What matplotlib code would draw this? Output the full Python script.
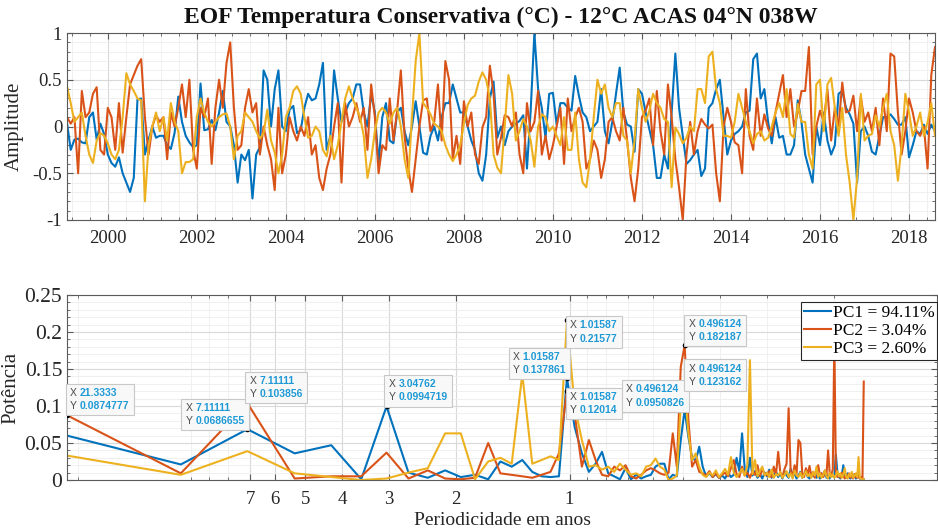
import numpy as np
import matplotlib
matplotlib.use('Agg')
import matplotlib.pyplot as plt
from matplotlib.ticker import AutoMinorLocator, FixedLocator, NullFormatter, LogLocator
from matplotlib.offsetbox import TextArea, HPacker, AnnotationBbox

plt.rcParams['font.family'] = ['Liberation Serif', 'DejaVu Serif']

# ---------------- time series (monthly, starting Feb 1999) ----------------
pc1 = [0.04, -0.25, -0.14, -0.13, -0.17, -0.18, 0.10, 0.15, -0.14, 0.03, -0.08, -0.30,
       -0.39, -0.43, -0.33, -0.50, -0.60, -0.70, -0.55, 0.29, 0.30, -0.30, -0.14, 0.00,
       -0.12, -0.10, -0.10, -0.20, -0.24, -0.07, 0.32, 0.05, -0.10, -0.17, -0.22, -0.20,
       0.46, -0.04, -0.03, 0.07, -0.04, 0.15, 0.38, 0.05, 0.00, -0.20, -0.60, -0.30,
       -0.36, -0.25, -0.77, -0.30, -0.22, 0.60, 0.50, 0.00, 0.40, 0.60, 0.00, -0.05,
       0.18, 0.22, -0.07, -0.04, 0.20, 0.35, 0.28, 0.30, 0.45, 0.68, -0.25, -0.10,
       0.60, 0.30, 0.05, 0.15, 0.25, 0.30, 0.45, 0.45, 0.15, 0.00, 0.35, 0.15,
       -0.40, 0.10, 0.25, -0.15, -0.18, 0.15, 0.20, -0.05, -0.20, 0.00, 0.27, 0.00,
       -0.28, -0.30, -0.10, 0.00, -0.15, 0.10, 0.25, 0.25, 0.45, 0.30, 0.15, 0.15,
       0.00, -0.15, -0.25, -0.50, -0.58, -0.30, 0.30, 0.48, -0.12, 0.00, -0.20, -0.05,
       0.00, 0.03, 0.06, 0.12, -0.45, 0.17, 1.00, 0.40, 0.20, -0.12, 0.35, 0.36,
       0.02, 0.25, 0.25, 0.20, 0.17, 0.54, 0.33, 0.15, 0.10, -0.05, 0.00, 0.05,
       0.40, -0.05, -0.18, 0.05, 0.35, 0.63, 0.15, 0.02, 0.00, -0.27, 0.40, 0.35,
       0.15, -0.03, -0.20, -0.55, -0.55, -0.30, -0.45, 0.15, 0.78, 0.20, -0.10, -0.40,
       -0.36, -0.30, -0.25, -0.53, -0.45, 0.20, 0.25, 0.40, 0.50, 0.10, -0.30, -0.15,
       -0.08, -0.05, 0.00, 0.15, 0.17, 0.72, 0.78, 0.30, 0.40, 0.05, -0.18, 0.10,
       -0.12, -0.10, -0.30, -0.30, -0.20, 0.28, 0.05, -0.30, -0.45, -0.60, 0.00, -0.20,
       0.15, -0.15, -0.30, -0.20, 0.35, 0.38, 0.20, 0.13, 0.03, -0.60, -0.05, 0.00,
       -0.10, -0.27, -0.30, -0.10, 0.10, 0.10, 0.13, 0.08, 0.02, 0.02, 0.10, -0.33,
       -0.20, -0.05, -0.08, 0.02, -0.08, 0.02, -0.05]

pc2 = [0.10, 0.03, 0.10, -0.50, 0.38, 0.10, 0.15, 0.35, 0.42, -0.25, -0.30, 0.20,
       0.10, -0.25, 0.25, -0.28, 0.10, 0.45, 0.55, 0.65, 0.72, 0.10, -0.30, 0.00,
       0.12, 0.05, 0.10, -0.35, 0.15, 0.00, 0.20, 0.45, 0.10, 0.50, -0.25, -0.45,
       0.20, 0.10, 0.30, -0.40, 0.20, 0.50, 0.20, 0.68, 0.90, 0.20, -0.25, -0.20,
       0.20, 0.40, 0.15, 0.25, -0.30, 0.00, -0.20, -0.35, -0.68, 0.20, -0.50, -0.30,
       0.10, -0.05, -0.15, 0.00, -0.10, 0.10, -0.30, -0.20, -0.55, -0.68, -0.45, -0.30,
       0.00, 0.25, -0.60, 0.25, 0.00, 0.10, 0.25, 0.05, 0.20, -0.25, 0.45, 0.10,
       -0.50, -0.20, -0.25, 0.30, -0.15, 0.17, 0.60, -0.10, -0.45, -0.70, -0.35, 0.00,
       0.28, 0.30, -0.05, 0.05, 0.45, -0.15, 0.70, 0.50, -0.35, -0.10, -0.40, 0.27,
       0.00, 0.15, -0.30, -0.40, -0.01, 0.10, 0.65, 0.35, -0.30, -0.12, 0.12, 0.10,
       0.00, 0.15, -0.30, -0.50, 0.25, -0.05, 0.05, 0.38, -0.30, -0.10, -0.35, -0.20,
       0.00, 0.20, -0.40, 0.30, -0.05, 0.10, 0.20, 0.05, -0.45, -0.35, -0.15, -0.25,
       -0.55, -0.35, 0.05, 0.10, -0.05, -0.15, 0.20, -0.15, -0.55, -0.80, -0.45, 0.10,
       0.17, 0.30, -0.20, 0.38, -0.05, -0.30, 0.45, 0.10, -0.35, -0.65, -1.00, -0.30,
       0.05, -0.30, -0.05, 0.08, 0.02, -0.02, 0.02, -0.50, -0.80, 0.00, 0.20, 0.05,
       -0.17, -0.20, -0.50, 0.40, -0.10, -0.25, 0.30, -0.10, 0.13, -0.02, -0.10, 0.15,
       0.35, 0.55, 0.10, 0.40, 0.00, 0.15, 0.38, 0.38, 0.85, -0.30, 0.00, 0.17,
       0.05, 0.40, -0.15, 0.20, 0.00, 0.47, 0.15, 0.17, 0.33, -0.05, 0.32, 0.05,
       0.15, -0.05, 0.20, -0.20, 0.30, -0.05, 0.78, 0.75, 0.15, -0.30, -0.05, 0.30,
       0.15, -0.05, -0.10, 0.00, -0.45, 0.55, 0.85]

pc3 = [0.43, 0.25, 0.05, 0.10, 0.15, -0.10, -0.30, -0.39, -0.15, -0.07, -0.10, -0.18,
       -0.30, -0.35, -0.25, 0.10, 0.57, 0.45, 0.38, 0.30, 0.28, -0.80, -0.20, 0.00,
       0.15, -0.05, 0.10, -0.15, 0.25, 0.05, -0.05, -0.50, -0.38, -0.38, -0.35, 0.10,
       0.30, 0.15, 0.05, 0.00, 0.05, 0.10, 0.13, 0.14, 0.00, -0.35, -0.10, -0.05,
       0.15, 0.10, 0.05, -0.05, -0.13, -0.07, 0.18, -0.15, -0.28, -0.50, -0.30, 0.10,
       0.20, 0.38, 0.43, 0.35, 0.10, -0.12, -0.10, 0.00, -0.05, -0.25, -0.32, -0.10,
       -0.35, -0.20, 0.05, 0.30, 0.43, 0.30, 0.20, 0.10, -0.10, -0.55, -0.35, -0.05,
       0.15, 0.20, 0.15, 0.03, 0.15, 0.20, 0.00, -0.35, -0.55, 0.10, 0.70, 1.00,
       0.25, 0.20, 0.13, 0.03, 0.00, -0.05, -0.20, -0.30, -0.37, -0.30, -0.20, 0.03,
       0.23, 0.30, 0.33, 0.48, 0.58, 0.50, 0.30, -0.30, -0.44, -0.50, 0.00, 0.55,
       0.35, -0.15, -0.05, 0.08, 0.00, -0.15, -0.43, 0.00, 0.13, 0.10, -0.05, 0.00,
       -0.10, -0.20, 0.10, -0.25, -0.25, 0.15, -0.35, -0.60, -0.65, -0.35, 0.10, 0.50,
       0.35, 0.45, 0.20, 0.10, 0.25, 0.25, -0.10, -0.15, -0.50, -0.15, 0.40, 0.20,
       0.05, 0.17, 0.35, 0.25, 0.20, 0.08, 0.05, -0.65, -0.01, -0.08, -0.18, -0.12,
       0.00, -0.05, 0.40, 0.40, 0.25, 0.75, 0.80, 0.40, 0.25, -0.10, -0.10, -0.12,
       0.05, 0.35, 0.20, 0.05, -0.05, -0.18, -0.08, -0.05, -0.15, -0.12, 0.00, 0.15,
       0.25, 0.10, 0.40, -0.08, -0.12, 0.24, 0.05, 0.05, -0.30, -0.45, 0.45, 0.50,
       -0.05, 0.45, 0.52, 0.20, -0.10, 0.20, -0.30, -0.60, -1.00, -0.55, 0.35, -0.15,
       -0.10, -0.08, 0.12, 0.00, 0.20, 0.35, -0.05, -0.20, -0.58, -0.20, 0.35, 0.15,
       -0.10, 0.00, 0.15, -0.10, 0.05, 0.25, -0.10]

start_year = 1999 + 1 / 12          # first month (Feb 1999)
tempo = start_year + np.arange(len(pc1)) / 12.0

# ---------------- power spectra (FFT with 256 points, monthly data) ----------------
N_FFT = 256
harm = np.arange(1, 129)
periodo = N_FFT / (12.0 * harm)     # period in years of each harmonic

pot1 = [0.060, 0.021, 0.0686655, 0.036, 0.047, 0.001, 0.0994719, 0.010, 0.003, 0.013,
        0.004, 0.007, 0.001, 0.025, 0.018, 0.027, 0.011, 0.005, 0.004, 0.005,
        0.137861, 0.072, 0.036, 0.011, 0.022, 0.038, 0.009, 0.005, 0.001, 0.016,
        0.001, 0.007, 0.002, 0.005, 0.007, 0.018, 0.022, 0.022, 0.001, 0.007,
        0.005, 0.054, 0.0950826, 0.058, 0.030, 0.026, 0.045, 0.018, 0.005, 0.009,
        0.004, 0.008, 0.003, 0.006, 0.002, 0.010, 0.004, 0.007, 0.030, 0.012,
        0.063, 0.015, 0.004, 0.030, 0.006, 0.012, 0.003, 0.008, 0.002, 0.010,
        0.005, 0.014, 0.003, 0.007, 0.011, 0.004, 0.009, 0.002, 0.012, 0.006,
        0.003, 0.015, 0.004, 0.009, 0.002, 0.006, 0.011, 0.003, 0.007, 0.013,
        0.004, 0.002, 0.008, 0.005, 0.010, 0.003, 0.006, 0.002, 0.009, 0.004,
        0.012, 0.003, 0.006, 0.002, 0.008, 0.005, 0.004, 0.034, 0.010, 0.004,
        0.002, 0.007, 0.020, 0.006, 0.003, 0.009, 0.004, 0.002, 0.006, 0.003,
        0.008, 0.002, 0.004, 0.007, 0.002, 0.003, 0.001, 0.001]

pot2 = [0.0874777, 0.009, 0.103856, 0.002, 0.005, 0.005, 0.037, 0.002, 0.013, 0.002,
        0.001, 0.003, 0.050, 0.009, 0.007, 0.005, 0.003, 0.007, 0.011, 0.036,
        0.12014, 0.090, 0.018, 0.054, 0.027, 0.007, 0.005, 0.018, 0.013, 0.020,
        0.005, 0.002, 0.007, 0.013, 0.016, 0.013, 0.009, 0.007, 0.010, 0.063,
        0.018, 0.153, 0.182187, 0.081, 0.018, 0.027, 0.011, 0.009, 0.006, 0.012,
        0.004, 0.009, 0.003, 0.007, 0.010, 0.005, 0.016, 0.027, 0.008, 0.004,
        0.018, 0.006, 0.010, 0.003, 0.012, 0.007, 0.020, 0.005, 0.014, 0.009,
        0.006, 0.012, 0.004, 0.018, 0.007, 0.038, 0.010, 0.004, 0.015, 0.022,
        0.097, 0.012, 0.006, 0.020, 0.008, 0.054, 0.050, 0.010, 0.004, 0.016,
        0.007, 0.019, 0.005, 0.011, 0.003, 0.014, 0.020, 0.006, 0.009, 0.004,
        0.013, 0.007, 0.040, 0.010, 0.005, 0.015, 0.190, 0.012, 0.004, 0.008,
        0.003, 0.010, 0.006, 0.002, 0.007, 0.004, 0.009, 0.003, 0.006, 0.002,
        0.008, 0.004, 0.003, 0.006, 0.002, 0.004, 0.002, 0.133]

pot3 = [0.033, 0.007, 0.039, 0.009, 0.004, 0.000, 0.002, 0.010, 0.016, 0.063,
        0.063, 0.001, 0.025, 0.030, 0.022, 0.143, 0.022, 0.027, 0.032, 0.027,
        0.21577, 0.100, 0.054, 0.018, 0.020, 0.014, 0.018, 0.011, 0.022, 0.014,
        0.007, 0.009, 0.005, 0.018, 0.020, 0.029, 0.018, 0.014, 0.000, 0.002,
        0.006, 0.100, 0.123162, 0.063, 0.027, 0.036, 0.018, 0.007, 0.004, 0.010,
        0.006, 0.013, 0.004, 0.009, 0.015, 0.007, 0.031, 0.010, 0.004, 0.009,
        0.015, 0.006, 0.020, 0.162, 0.008, 0.027, 0.005, 0.012, 0.018, 0.006,
        0.010, 0.004, 0.014, 0.003, 0.008, 0.006, 0.011, 0.003, 0.007, 0.012,
        0.004, 0.009, 0.002, 0.013, 0.006, 0.004, 0.010, 0.003, 0.007, 0.012,
        0.005, 0.008, 0.003, 0.011, 0.006, 0.018, 0.004, 0.009, 0.003, 0.007,
        0.013, 0.005, 0.002, 0.010, 0.004, 0.008, 0.003, 0.006, 0.012, 0.005,
        0.009, 0.003, 0.007, 0.016, 0.004, 0.002, 0.008, 0.005, 0.011, 0.003,
        0.006, 0.009, 0.004, 0.031, 0.003, 0.002, 0.001, 0.001]

legend_labels = ['PC1 = 94.11%', 'PC2 = 3.04%', 'PC3 = 2.60%']
year_ticks = list(range(2000, 2019, 2))
amp_ticks = [-1, -0.5, 0, 0.5, 1]
amp_ticklabels = ['-1', '-0.5', '0', '0.5', '1']
period_ticks = [7, 6, 5, 4, 3, 2, 1]
pot_ticks = [0, 0.05, 0.1, 0.15, 0.2, 0.25]
pot_ticklabels = ['0', '0.05', '0.1', '0.15', '0.2', '0.25']

# data tips: (series, harmonic number, box alignment, offset in pixels)
datatips = [
    (1, 1, (0, 0), (3, 4)),
    (0, 3, (1, 0), (-3, 3)),
    (1, 3, (0, 0), (2, 4)),
    (0, 7, (0, 0), (2, 4)),
    (0, 21, (1, 0), (-1, 3)),
    (2, 21, (0, 1), (3, 0)),
    (1, 21, (0, 1), (3, -1)),
    (0, 43, (1, 0), (0, 2)),
    (1, 43, (0, 0), (4, 3)),
    (2, 43, (0, 0), (4, 2)),
]

colors = ['#0072BD', '#D95319', '#EDB120']
txt_color = '#262626'
spine_color = '#5a5a5a'

W, H = 938, 531
fig = plt.figure(figsize=(W / 100, H / 100), dpi=100)
ax1 = fig.add_axes([67 / W, 1 - 220 / H, 868 / W, 187 / H])
ax2 = fig.add_axes([67 / W, 1 - 480 / H, 870 / W, 185 / H])

for ax in (ax1, ax2):
    for s in ax.spines.values():
        s.set_color(spine_color)
        s.set_linewidth(0.8)
    ax.tick_params(which='both', direction='in', top=True, right=True,
                   colors=spine_color, labelcolor=txt_color, labelsize=13.5)
    ax.tick_params(which='major', length=4)
    ax.tick_params(which='minor', length=2)
    ax.set_axisbelow(True)

# ---- top panel ----
series = [pc1, pc2, pc3]
for s, c in zip(series, colors):
    ax1.plot(tempo, s, color=c, lw=1.5)
ax1.set_xlim(tempo[0], tempo[-1])
ax1.set_ylim(-1, 1)
ax1.xaxis.set_major_locator(FixedLocator(year_ticks))
ax1.set_xticklabels([str(y) for y in year_ticks])
ax1.xaxis.set_minor_locator(AutoMinorLocator(5))
ax1.set_yticks(amp_ticks)
ax1.set_yticklabels(amp_ticklabels)
ax1.yaxis.set_minor_locator(AutoMinorLocator(5))
ax1.tick_params(axis='x', which='major', pad=7)
ax1.grid(which='major', color='#d9d9d9', lw=0.8)
ax1.grid(which='minor', color='#eeeeee', lw=0.6)
ax1.set_ylabel('Amplitude', fontsize=15, color=txt_color, labelpad=6)
ax1.set_title('EOF Temperatura Conservativa (°C) - 12°C ACAS 04°N 038W',
              fontsize=17, fontweight='bold', color='#111111', pad=7)

# ---- bottom panel ----
pots = [pot1, pot2, pot3]
lines = []
for p, c in zip(pots, colors):
    ln, = ax2.plot(periodo, p, color=c, lw=1.5)
    lines.append(ln)
ax2.set_xscale('log')
ax2.set_xlim(periodo[0], 0.1067)
ax2.set_ylim(0, 0.25)
ax2.xaxis.set_major_locator(FixedLocator(period_ticks))
ax2.xaxis.set_minor_locator(LogLocator(base=10, subs=np.arange(1, 10), numticks=20))
ax2.xaxis.set_minor_formatter(NullFormatter())
ax2.set_xticklabels([str(p) for p in period_ticks])
ax2.set_yticks(pot_ticks)
ax2.set_yticklabels(pot_ticklabels)
ax2.tick_params(axis='y', which='major', labelsize=15.5)
ax2.tick_params(axis='x', which='major', pad=8)
ax2.yaxis.set_minor_locator(AutoMinorLocator(5))
ax2.grid(which='major', color='#d9d9d9', lw=0.8)
ax2.grid(which='minor', color='#eeeeee', lw=0.6)
ax2.set_ylabel('Potência', fontsize=15, color=txt_color, labelpad=3)
ax2.set_xlabel('Periodicidade em anos', fontsize=14, color=txt_color, labelpad=3)

leg = ax2.legend(lines, legend_labels, loc='upper right', bbox_to_anchor=(1.0, 0.962),
                 borderaxespad=0, fontsize=12.5, frameon=True, fancybox=False,
                 edgecolor='#262626', framealpha=1, handlelength=1.55,
                 handletextpad=0.1, labelspacing=0.12, borderpad=0.15)
leg.get_frame().set_linewidth(0.8)
leg.set_zorder(10)

tip_blue = '#1f9ad6'
for si, kk, align, off in datatips:
    xv = periodo[kk - 1]
    yv = pots[si][kk - 1]
    ax2.plot([xv], [yv], 'o', color='k', ms=3, zorder=6)
    lab = TextArea('X\nY', textprops=dict(color='#4a4a4a', fontsize=7.5,
                                          family='Liberation Sans', linespacing=1.4))
    val = TextArea('%.6g\n%.6g' % (xv, yv),
                   textprops=dict(color=tip_blue, fontsize=7.5, fontweight='bold',
                                  family='Liberation Sans', linespacing=1.4))
    pack = HPacker(children=[lab, val], align='center', pad=0, sep=2)
    ab = AnnotationBbox(pack, (xv, yv), xybox=off, xycoords='data',
                        boxcoords='offset pixels', box_alignment=align, pad=0.55,
                        frameon=True,
                        bboxprops=dict(boxstyle='square', fc='#f8f8f8', ec='#c8c8c8', lw=0.8))
    ab.set_zorder(7)
    ax2.add_artist(ab)

fig.savefig('out.png', dpi=100)
